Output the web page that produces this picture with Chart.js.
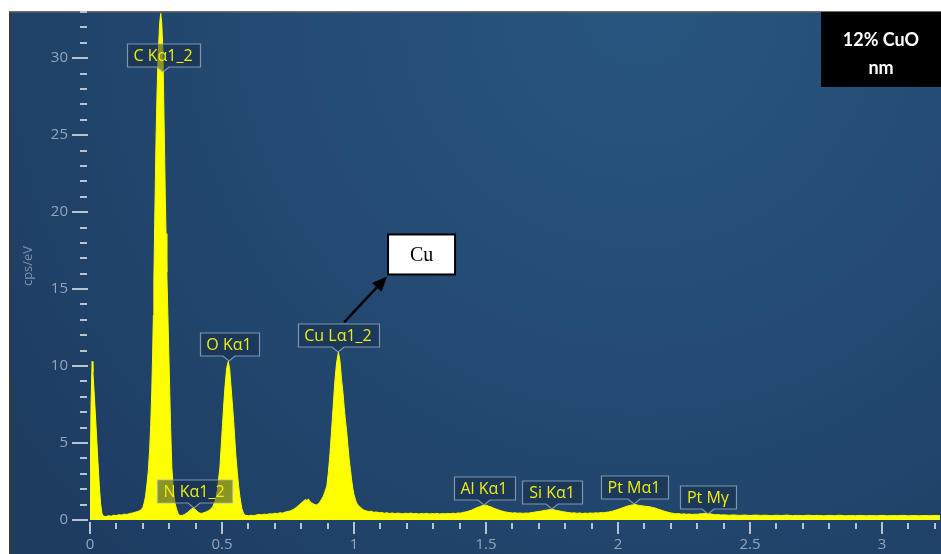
<!DOCTYPE html>
<html>
<head>
<meta charset="utf-8">
<script src="https://cdn.jsdelivr.net/npm/chart.js@4.4.1/dist/chart.umd.min.js"></script>
<style>
  html, body { margin: 0; padding: 0; background: #ffffff; overflow: hidden; }
  #wrap { position: relative; width: 941px; height: 554px; }
</style>
</head>
<body>
<div id="wrap"><canvas id="spectrum" width="941" height="554"></canvas></div>
<script>
// EDS spectrum: energy (keV) and intensity (cps/eV)
const energyKeV = [
  0.000,0.004,0.008,0.011,0.015,0.020,0.025,0.030,0.035,0.040,0.045,0.050,
  0.06,0.07,0.08,0.09,0.10,0.11,0.12,0.13,0.14,0.15,0.16,0.17,0.18,0.19,0.195,
  0.200,0.205,0.210,0.215,0.221,0.226,0.230,0.234,0.237,0.240,0.242,0.245,0.250,0.254,0.258,0.264,0.268,0.272,0.276,0.279,0.282,0.285,0.288,0.291,0.296,0.300,0.305,0.310,0.316,0.322,0.328,0.334,0.341,
  0.350,0.360,0.370,0.378,0.385,0.391,0.398,0.405,0.412,0.418,0.423,0.430,0.436,
  0.442,0.450,0.458,0.465,0.472,0.478,0.483,0.488,0.492,0.497,0.502,0.507,0.512,0.518,0.524,0.529,0.534,0.539,0.543,0.548,0.553,0.558,0.563,0.568,0.575,0.582,0.590,0.600,
  0.61,0.62,0.63,0.64,0.65,0.66,0.67,0.68,0.69,0.70,0.71,0.72,0.73,0.74,0.75,0.76,0.77,0.78,
  0.790,0.800,0.808,0.815,0.822,0.828,0.833,0.840,0.846,0.852,0.858,0.864,
  0.870,0.877,0.884,0.890,0.897,0.903,0.909,0.915,0.922,0.928,0.934,0.941,0.947,0.953,0.958,0.963,0.968,0.972,0.977,0.982,0.987,0.991,0.996,1.000,1.005,1.010,1.018,1.026,1.035,1.045,1.055,1.065,1.075,1.085,1.095,
  1.105,1.115,1.125,1.135,1.145,1.155,1.165,1.175,1.185,1.195,1.205,1.215,1.225,1.235,1.245,1.255,1.265,1.275,1.285,1.295,1.305,1.315,1.325,1.335,1.345,1.355,1.365,1.375,1.385,1.395,1.405,
  1.415,1.425,1.435,1.445,1.455,1.465,1.475,1.485,1.495,1.503,1.510,1.520,1.530,1.540,1.550,1.560,1.570,1.580,
  1.59,1.60,1.61,1.62,1.63,1.64,1.65,1.66,1.67,
  1.680,1.690,1.700,1.710,1.720,1.730,1.740,1.749,1.758,1.766,1.775,1.785,1.795,1.805,1.815,
  1.825,1.835,1.845,1.855,1.865,1.875,1.885,1.895,1.905,1.915,1.925,1.935,1.945,1.955,1.965,
  1.975,1.985,1.995,2.005,2.015,2.025,2.035,2.045,2.055,2.064,2.072,2.080,2.090,2.100,2.110,2.120,2.130,2.140,2.150,2.160,2.170,2.180,2.190,2.200,
  2.21,2.22,2.23,2.24,2.25,2.26,2.27,2.28,2.29,2.30,2.31,2.32,2.33,2.34,2.35,2.36,2.37,2.38,2.39,2.40,
  2.42,2.44,2.46,2.48,2.50,2.52,2.54,2.56,2.58,2.60,2.62,2.64,2.66,2.68,2.70,2.72,2.74,2.76,2.78,2.80,
  2.82,2.84,2.86,2.88,2.90,2.92,2.94,2.96,2.98,3.00,3.02,3.04,3.06,3.08,3.10,3.12,3.14,3.16,3.18,3.20,3.22
];
const countsPerEV = [
  1.2,7.6,10.3,9.6,8.5,7.0,5.4,3.8,2.3,1.1,0.45,0.26,
  0.22,0.28,0.25,0.31,0.29,0.34,0.32,0.38,0.36,0.42,0.45,0.50,0.55,0.62,0.70,
  0.80,1.1,1.5,2.2,3.2,4.6,6.2,8.4,10.6,13.3,15.6,19.2,24.6,27.8,30.1,32.3,32.9,32.2,30.5,27.5,24.5,21.2,18.6,16.1,12.6,9.8,6.2,3.4,1.9,1.1,0.70,0.42,0.28,
  0.30,0.38,0.50,0.62,0.72,0.78,0.70,0.58,0.48,0.44,0.43,0.47,0.50,
  0.55,0.62,0.72,0.88,1.15,1.5,2.0,2.8,3.4,4.8,6.2,7.6,8.8,9.9,10.3,9.8,8.7,7.6,6.7,5.4,4.1,3.1,2.2,1.5,0.75,0.42,0.30,0.27,
  0.31,0.28,0.33,0.36,0.34,0.38,0.36,0.41,0.39,0.44,0.42,0.47,0.45,0.52,0.55,0.60,0.68,0.80,
  0.95,1.10,1.22,1.32,1.28,1.36,1.20,1.12,1.05,1.00,0.98,1.05,
  1.15,1.35,1.55,1.85,2.2,3.1,4.3,5.8,7.6,9.1,10.2,10.9,10.3,9.1,8.3,7.3,6.4,5.8,4.8,3.9,3.2,2.6,2.0,1.65,1.35,1.10,0.92,0.80,0.66,0.60,0.55,0.57,0.50,0.52,0.47,
  0.49,0.44,0.47,0.42,0.46,0.41,0.45,0.43,0.40,0.44,0.41,0.45,0.40,0.43,0.39,0.42,0.40,0.44,0.39,0.42,0.40,0.43,0.39,0.42,0.40,0.43,0.41,0.44,0.42,0.46,0.45,
  0.50,0.53,0.58,0.64,0.72,0.80,0.86,0.92,0.97,0.95,0.90,0.84,0.76,0.70,0.64,0.58,0.54,0.50,
  0.48,0.45,0.47,0.44,0.46,0.43,0.46,0.44,0.48,
  0.50,0.53,0.55,0.58,0.62,0.64,0.67,0.69,0.66,0.62,0.60,0.56,0.53,0.50,0.48,
  0.45,0.47,0.43,0.46,0.42,0.45,0.43,0.46,0.44,0.47,0.45,0.48,0.47,0.50,0.52,
  0.56,0.60,0.66,0.72,0.78,0.84,0.90,0.95,0.98,1.02,0.97,0.95,0.92,0.90,0.88,0.86,0.82,0.78,0.72,0.66,0.60,0.55,0.50,0.46,
  0.43,0.40,0.42,0.38,0.40,0.37,0.39,0.36,0.38,0.37,0.40,0.41,0.43,0.42,0.40,0.36,0.34,0.35,0.32,0.34,
  0.31,0.33,0.30,0.32,0.29,0.32,0.30,0.31,0.28,0.31,0.29,0.32,0.28,0.30,0.28,0.31,0.29,0.30,0.27,0.30,
  0.28,0.31,0.27,0.29,0.28,0.30,0.27,0.29,0.27,0.30,0.27,0.29,0.28,0.30,0.27,0.29,0.27,0.29,0.28,0.29,0.28
];

// axis tick labels
const xTickLabels = ['0', '0.5', '1', '1.5', '2', '2.5', '3'];
const yTickLabels = ['0', '5', '10', '15', '20', '25', '30'];

// identified lines
const peakNames = ['C Kα1_2', 'N Kα1_2', 'O Kα1', 'Cu Lα1_2', 'Al Kα1', 'Si Kα1', 'Pt Mα1', 'Pt Mγ'];
const peakKeV   = [0.277, 0.394, 0.526, 0.938, 1.494, 1.750, 2.060, 2.342];

const calloutText = 'Cu';
const sampleLines = ['12% CuO', 'nm'];

const X_MAX = 3.2235, Y_MAX = 33;
const LABEL_FONT = '16px "Open Sans", sans-serif';

function peakHeight(e) {
  let best = 0;
  for (let i = 0; i < energyKeV.length; i++) {
    if (Math.abs(energyKeV[i] - e) <= 0.012 && countsPerEV[i] > best) best = countsPerEV[i];
  }
  return best;
}

// keep the plot area flush with the axis boxes
function fixBox(size, key) {
  return s => {
    s[key] = size;
    s.paddingTop = 0; s.paddingBottom = 0; s.paddingLeft = 0; s.paddingRight = 0;
  };
}

const panelBackground = {
  id: 'panelBackground',
  beforeDraw(chart) {
    const ctx = chart.ctx;
    ctx.save();
    ctx.fillStyle = '#ffffff';
    ctx.fillRect(0, 0, chart.width, chart.height);
    const g = ctx.createRadialGradient(640, 10, 20, 640, 10, 760);
    g.addColorStop(0, '#28557f');
    g.addColorStop(0.5, '#234a72');
    g.addColorStop(1, '#1e3c62');
    ctx.fillStyle = g;
    ctx.fillRect(10, 12, chart.width - 10, chart.height - 12);
    ctx.fillStyle = '#3a3a3a';
    ctx.fillRect(9, 12, 2, chart.height - 12);
    ctx.fillStyle = '#6b6b6b';
    ctx.fillRect(9, 11, chart.width - 9, 1.5);
    ctx.restore();
  }
};

function drawPeakLabel(ctx, text, cx, tipY) {
  ctx.font = LABEL_FONT;
  const w = Math.round(ctx.measureText(text).width + 14);
  const h = 23;
  const bottom = tipY - 5;
  const top = bottom - h;
  const left = Math.round(cx - w / 2) + 0.5, right = left + w;
  ctx.beginPath();
  ctx.moveTo(left, top);
  ctx.lineTo(right, top);
  ctx.lineTo(right, bottom);
  ctx.lineTo(cx + 6, bottom);
  ctx.lineTo(cx, tipY);
  ctx.lineTo(cx - 6, bottom);
  ctx.lineTo(left, bottom);
  ctx.closePath();
  ctx.fillStyle = 'rgba(22, 42, 70, 0.5)';
  ctx.fill();
  ctx.lineWidth = 1.2;
  ctx.strokeStyle = 'rgba(160, 178, 198, 0.75)';
  ctx.stroke();
  ctx.fillStyle = '#eded10';
  ctx.textAlign = 'center';
  ctx.textBaseline = 'middle';
  ctx.fillText(text, cx, top + h / 2 + 1);
}

const overlay = {
  id: 'overlay',
  afterDatasetsDraw(chart) {
    const ctx = chart.ctx;
    const xs = chart.scales.x, ys = chart.scales.y;
    const area = chart.chartArea;
    ctx.save();

    // y tick marks: major every 5, minor every 1
    ctx.fillStyle = '#b9c3cf';
    ys.ticks.forEach(t => {
      const v = Math.round(t.value);
      if (Math.abs(t.value - v) > 1e-6) return;
      const y = Math.round(ys.getPixelForValue(v));
      if (v % 5 === 0) ctx.fillRect(area.left - 18, y - 1, 16, 2);
      else ctx.fillRect(area.left - 10, y - 1, 7, 2);
    });
    // x tick marks: major every 0.5, minor every 0.1
    xs.ticks.forEach(t => {
      const n = Math.round(t.value * 10);
      if (Math.abs(t.value * 10 - n) > 1e-6) return;
      const x = Math.round(xs.getPixelForValue(t.value));
      if (n % 5 === 0) ctx.fillRect(x - 1, area.bottom + 2, 2, 12);
      else ctx.fillRect(x - 1, area.bottom + 3, 2, 6);
    });

    // line identification labels
    peakNames.forEach((name, i) => {
      const cx = Math.round(xs.getPixelForValue(peakKeV[i]));
      let tipY = ys.getPixelForValue(peakHeight(peakKeV[i]));
      tipY = Math.max(tipY, area.top + 60);
      drawPeakLabel(ctx, name, cx, Math.round(tipY));
    });

    // "Cu" callout with arrow
    const bx = xs.getPixelForValue(1.129), by = ys.getPixelForValue(15.95);
    const bw = 67, bh = 40;
    const ax = xs.getPixelForValue(0.963), ay = ys.getPixelForValue(12.85);
    ctx.strokeStyle = '#000000';
    ctx.fillStyle = '#000000';
    ctx.lineWidth = 2.5;
    const tx = bx - 1, ty = by + 2;
    const ang = Math.atan2(ty - ay, tx - ax);
    const hl = 15, hw = 6.5;
    const baseX = tx - hl * Math.cos(ang), baseY = ty - hl * Math.sin(ang);
    ctx.beginPath();
    ctx.moveTo(ax, ay);
    ctx.lineTo(baseX, baseY);
    ctx.stroke();
    ctx.beginPath();
    ctx.moveTo(tx, ty);
    ctx.lineTo(baseX + hw * Math.sin(ang), baseY - hw * Math.cos(ang));
    ctx.lineTo(baseX - hw * Math.sin(ang), baseY + hw * Math.cos(ang));
    ctx.closePath();
    ctx.fill();
    ctx.fillStyle = '#ffffff';
    ctx.fillRect(bx, by - bh, bw, bh);
    ctx.lineWidth = 2;
    ctx.strokeRect(bx, by - bh, bw, bh);
    ctx.fillStyle = '#000000';
    ctx.font = '20px "Liberation Serif", serif';
    ctx.textAlign = 'center';
    ctx.textBaseline = 'middle';
    ctx.fillText(calloutText, bx + bw / 2, by - bh / 2 + 1);

    // sample tag, top right
    ctx.fillStyle = '#000000';
    ctx.fillRect(821, 12, chart.width - 821, 75);
    ctx.fillStyle = '#ffffff';
    ctx.font = 'bold 18px Lato, sans-serif';
    ctx.fillText(sampleLines[0], 881, 40);
    ctx.fillText(sampleLines[1], 881, 68);

    ctx.restore();
  }
};

const points = energyKeV.map((e, i) => ({ x: e, y: countsPerEV[i] }));

new Chart(document.getElementById('spectrum'), {
  type: 'line',
  data: {
    datasets: [{
      data: points,
      fill: 'origin',
      backgroundColor: '#ffff00',
      borderColor: '#ffff00',
      borderWidth: 1,
      pointRadius: 0,
      tension: 0
    }]
  },
  options: {
    responsive: false,
    animation: false,
    events: [],
    layout: { padding: { top: 12, left: 0, right: 0, bottom: 0 } },
    plugins: { legend: { display: false }, tooltip: { enabled: false } },
    scales: {
      x: {
        type: 'linear',
        min: 0, max: X_MAX,
        grid: { display: false, drawTicks: false },
        border: { display: false },
        ticks: {
          stepSize: 0.1, includeBounds: false, autoSkip: false, maxRotation: 0,
          padding: 16, color: '#93a5bd',
          font: { family: '"Open Sans", sans-serif', size: 15 },
          callback: v => {
            const k = Math.round(v * 2);
            return Math.abs(v * 2 - k) < 1e-6 && xTickLabels[k] !== undefined ? xTickLabels[k] : '';
          }
        },
        afterFit: fixBox(34, 'height')
      },
      y: {
        min: 0, max: Y_MAX,
        grid: { display: false, drawTicks: false },
        border: { display: false },
        ticks: {
          stepSize: 1, includeBounds: false, autoSkip: false,
          padding: 22, color: '#93a5bd',
          font: { family: '"Open Sans", sans-serif', size: 15 },
          callback: v => {
            const k = Math.round(v / 5);
            return Math.abs(v / 5 - k) < 1e-6 && yTickLabels[k] !== undefined ? yTickLabels[k] : '';
          }
        },
        title: {
          display: true, text: 'cps/eV', color: '#7f93ad',
          font: { family: '"Open Sans", sans-serif', size: 13 },
          padding: { top: 20, bottom: 0 }
        },
        afterFit: fixBox(90, 'width')
      }
    }
  },
  plugins: [panelBackground, overlay]
});
</script>
</body>
</html>
